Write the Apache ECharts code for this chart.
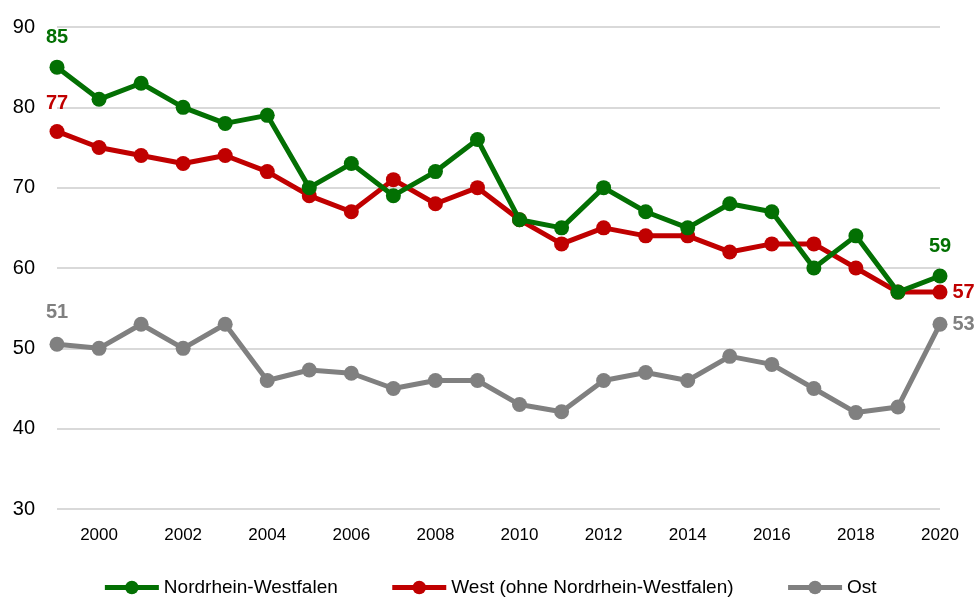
<!DOCTYPE html>
<html>
<head>
<meta charset="utf-8">
<script src="https://cdn.jsdelivr.net/npm/echarts@6/dist/echarts.min.js"></script>
<style>
  html, body { margin: 0; padding: 0; background: #fff; }
  #chart { width: 979px; height: 599px; }
</style>
</head>
<body>
<div id="chart"></div>
<script>
// Jahre
const years = ['1999', '2000', '2001', '2002', '2003', '2004', '2005', '2006', '2007', '2008', '2009',
  '2010', '2011', '2012', '2013', '2014', '2015', '2016', '2017', '2018', '2019', '2020']

// Werte je Region
const nrw = [85, 81, 83, 80, 78, 79, 70, 73, 69, 72, 76, 66, 65, 70, 67, 65, 68, 67, 60, 64, 57, 59]
const west = [77, 75, 74, 73, 74, 72, 69, 67, 71, 68, 70, 66, 63, 65, 64, 64, 62, 63, 63, 60, 57, 57]
const ost = [50.5, 50, 53, 50, 53, 46, 47.3, 46.9, 45, 46, 46, 43, 42.1, 46, 47, 46, 49, 48, 45, 42, 42.7, 53]

// Beschriftungen am Anfang / Ende
const startLabels = ['85', '77', '51']
const endLabels = ['59', '57', '53']

const FONT = '"Liberation Sans Narrow", "Arial Narrow", "Liberation Sans", sans-serif'

const chart = echarts.init(document.getElementById('chart'))

// Datenpunkte bauen, erste und letzte mit Label
const labelStyle = (text, color, position, distance) => ({
  show: true, position, distance, formatter: text, color,
  fontWeight: 'bold', fontSize: 20, fontFamily: FONT
})

const buildData = (values, idx, color, startDist, endPos, endDist) =>
  values.map((v, i) => {
    if (i === 0) return { value: v, label: labelStyle(startLabels[idx], color, 'top', startDist) }
    if (i === values.length - 1) return { value: v, label: labelStyle(endLabels[idx], color, endPos, endDist) }
    return v
  })

const makeSeries = (name, values, color, idx, startDist, endPos, endDist) => ({
  name,
  type: 'line',
  data: buildData(values, idx, color, startDist, endPos, endDist),
  symbol: 'circle',
  symbolSize: 15,
  lineStyle: { color, width: 5 },
  itemStyle: { color },
  z: 10 - idx
})

const option = {
  animation: false,
  backgroundColor: '#fff',
  grid: {
    left: 57,
    right: 39,
    top: 27,
    bottom: 90,
    containLabel: false
  },
  legend: {
    bottom: -3,
    left: 'center',
    itemWidth: 54,
    itemHeight: 17,
    itemGap: 52,
    lineStyle: { width: 5 },
    textStyle: { fontSize: 19, color: '#000', fontFamily: FONT },
    data: ['Nordrhein-Westfalen', 'West (ohne Nordrhein-Westfalen)', 'Ost']
  },
  xAxis: {
    type: 'category',
    data: years,
    boundaryGap: false,
    axisLine: { show: false },
    axisTick: { show: false },
    axisLabel: {
      color: '#000',
      fontSize: 17,
      fontFamily: FONT,
      margin: 18,
      interval: (i, v) => Number(v) % 2 === 0
    },
    splitLine: { show: false }
  },
  yAxis: {
    type: 'value',
    min: 30,
    max: 90,
    interval: 10,
    axisLine: { show: false },
    axisTick: { show: false },
    axisLabel: {
      color: '#000',
      fontSize: 20,
      fontFamily: FONT,
      margin: 22
    },
    splitLine: { lineStyle: { color: '#d9d9d9', width: 2 } }
  },
  series: [
    makeSeries('Nordrhein-Westfalen', nrw, '#037003', 0, 12, 'top', 12),
    makeSeries('West (ohne Nordrhein-Westfalen)', west, '#c00000', 1, 10, 'right', 5),
    makeSeries('Ost', ost, '#808080', 2, 14, 'right', 5)
  ]
}

chart.setOption(option)
</script>
</body>
</html>
